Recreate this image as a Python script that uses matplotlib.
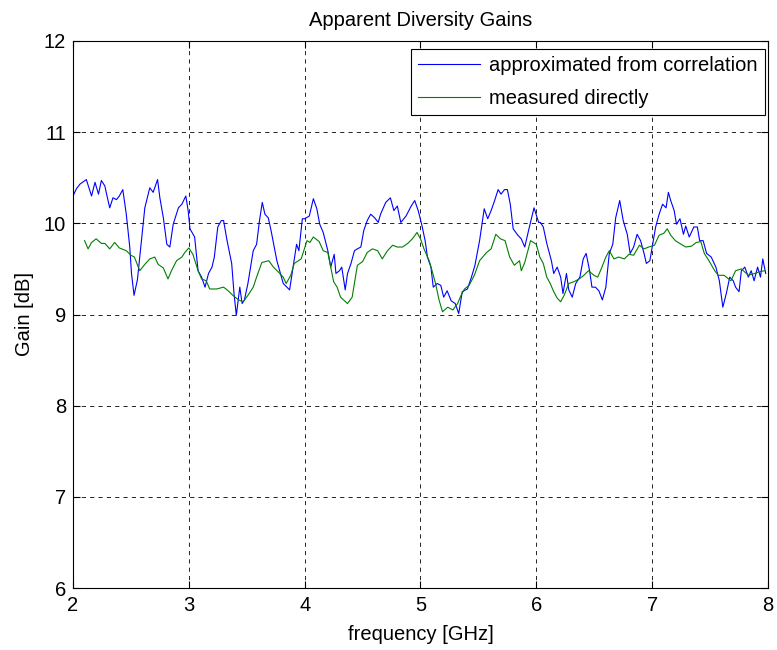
import numpy as np
import matplotlib
matplotlib.use("Agg")
import matplotlib.pyplot as plt

plt.rcParams['font.family'] = ['Liberation Sans', 'DejaVu Sans']

# approximated from correlation (blue)
freq_corr = [2.00, 2.03, 2.06, 2.115, 2.16, 2.19, 2.22, 2.245, 2.275, 2.29, 2.317,
             2.345, 2.375, 2.40, 2.43, 2.46, 2.49, 2.505, 2.527, 2.556, 2.585, 2.62,
             2.663, 2.692, 2.73, 2.75, 2.78, 2.81, 2.836, 2.865, 2.91, 2.94, 2.974,
             2.994, 3.01, 3.05, 3.08, 3.11, 3.14, 3.17, 3.20, 3.22, 3.25, 3.28, 3.30,
             3.33, 3.37, 3.39, 3.41, 3.44, 3.46, 3.48, 3.51, 3.556, 3.585, 3.61,
             3.634, 3.657, 3.686, 3.71, 3.76, 3.815, 3.87, 3.90, 3.93, 3.95, 3.98,
             4.00, 4.04, 4.075, 4.105, 4.13, 4.16, 4.20, 4.225, 4.255, 4.27, 4.30,
             4.32, 4.35, 4.37, 4.40, 4.43, 4.455, 4.485, 4.51, 4.54, 4.57, 4.605,
             4.635, 4.655, 4.70, 4.74, 4.77, 4.80, 4.83, 4.875, 4.92, 4.95, 4.98,
             5.01, 5.04, 5.06, 5.09, 5.11, 5.145, 5.175, 5.20, 5.23, 5.265, 5.30,
             5.33, 5.36, 5.405, 5.44, 5.47, 5.51, 5.55, 5.58, 5.61, 5.64, 5.67,
             5.695, 5.725, 5.75, 5.775, 5.80, 5.84, 5.87, 5.90, 5.94, 5.98, 6.02,
             6.035, 6.06, 6.09, 6.13, 6.15, 6.18, 6.21, 6.23, 6.26, 6.28, 6.31,
             6.34, 6.376, 6.405, 6.43, 6.46, 6.48, 6.51, 6.54, 6.57, 6.60, 6.63,
             6.66, 6.685, 6.72, 6.75, 6.785, 6.81, 6.84, 6.87, 6.90, 6.93, 6.95,
             6.98, 7.00, 7.03, 7.06, 7.09, 7.12, 7.14, 7.16, 7.19, 7.21, 7.24, 7.27,
             7.29, 7.32, 7.36, 7.39, 7.41, 7.44, 7.47, 7.51, 7.55, 7.58, 7.61, 7.64,
             7.67, 7.70, 7.72, 7.75, 7.77, 7.80, 7.83, 7.855, 7.88, 7.91, 7.935,
             7.955, 7.98]
gain_corr = [10.30, 10.38, 10.43, 10.48, 10.30, 10.45, 10.32, 10.47, 10.41, 10.32,
             10.17, 10.28, 10.26, 10.30, 10.37, 10.10, 9.74, 9.45, 9.21, 9.38, 9.74,
             10.17, 10.39, 10.34, 10.48, 10.28, 10.06, 9.77, 9.74, 9.99, 10.17,
             10.21, 10.30, 10.14, 9.94, 9.85, 9.48, 9.41, 9.30, 9.45, 9.52, 9.63,
             9.96, 10.03, 10.03, 9.81, 9.56, 9.23, 8.99, 9.30, 9.12, 9.16, 9.34,
             9.70, 9.77, 10.03, 10.23, 10.10, 10.06, 9.92, 9.59, 9.34, 9.27, 9.52,
             9.77, 9.70, 10.05, 10.05, 10.08, 10.27, 10.16, 9.99, 9.90, 9.70, 9.52,
             9.66, 9.45, 9.48, 9.52, 9.27, 9.45, 9.56, 9.70, 9.72, 9.74, 9.92,
             10.03, 10.10, 10.06, 10.01, 10.10, 10.23, 10.28, 10.14, 10.19, 10.01,
             10.08, 10.19, 10.25, 10.14, 9.99, 9.81, 9.63, 9.52, 9.30, 9.34, 9.32,
             9.19, 9.26, 9.15, 9.12, 9.01, 9.25, 9.28, 9.41, 9.54, 9.81, 10.16,
             10.05, 10.14, 10.25, 10.37, 10.32, 10.37, 10.37, 10.21, 9.94, 9.87,
             9.83, 9.74, 9.96, 10.17, 10.01, 10.01, 9.96, 9.78, 9.59, 9.45, 9.52,
             9.41, 9.23, 9.45, 9.27, 9.19, 9.34, 9.41, 9.61, 9.67, 9.48, 9.30,
             9.30, 9.26, 9.16, 9.30, 9.67, 9.77, 10.06, 10.25, 10.03, 9.88, 9.67,
             9.74, 9.88, 9.81, 9.67, 9.56, 9.59, 9.74, 9.96, 10.10, 10.21, 10.17,
             10.34, 10.25, 10.14, 9.99, 10.05, 9.88, 9.97, 9.85, 9.96, 9.96, 9.81,
             9.81, 9.67, 9.63, 9.52, 9.37, 9.08, 9.23, 9.41, 9.37, 9.30, 9.25,
             9.48, 9.52, 9.41, 9.48, 9.37, 9.52, 9.41, 9.61, 9.45]

# measured directly (green)
freq_meas = [2.10, 2.13, 2.16, 2.20, 2.245, 2.275, 2.317, 2.36, 2.40, 2.46, 2.50,
             2.53, 2.576, 2.62, 2.663, 2.706, 2.735, 2.78, 2.82, 2.85, 2.894, 2.94,
             2.965, 3.00, 3.035, 3.08, 3.11, 3.15, 3.18, 3.24, 3.30, 3.34, 3.38,
             3.43, 3.47, 3.51, 3.556, 3.585, 3.63, 3.69, 3.73, 3.77, 3.815, 3.84,
             3.88, 3.91, 3.97, 4.02, 4.045, 4.075, 4.125, 4.16, 4.20, 4.225, 4.25,
             4.28, 4.31, 4.37, 4.41, 4.455, 4.50, 4.54, 4.585, 4.63, 4.67, 4.715,
             4.76, 4.80, 4.845, 4.89, 4.93, 4.97, 5.00, 5.03, 5.075, 5.10, 5.13,
             5.16, 5.19, 5.235, 5.28, 5.32, 5.35, 5.38, 5.42, 5.465, 5.51, 5.57,
             5.61, 5.65, 5.69, 5.73, 5.77, 5.81, 5.855, 5.87, 5.90, 5.95, 6.00,
             6.03, 6.06, 6.09, 6.12, 6.15, 6.18, 6.21, 6.24, 6.28, 6.325, 6.37,
             6.41, 6.45, 6.497, 6.53, 6.56, 6.60, 6.63, 6.67, 6.71, 6.76, 6.80,
             6.84, 6.89, 6.93, 6.97, 7.02, 7.06, 7.10, 7.13, 7.16, 7.20, 7.25,
             7.29, 7.34, 7.38, 7.42, 7.45, 7.49, 7.54, 7.57, 7.62, 7.68, 7.72,
             7.77, 7.83, 7.885, 7.93, 7.97]
gain_meas = [9.81, 9.72, 9.79, 9.83, 9.78, 9.78, 9.72, 9.79, 9.73, 9.70, 9.65,
             9.63, 9.48, 9.55, 9.61, 9.63, 9.55, 9.51, 9.39, 9.48, 9.59, 9.63,
             9.68, 9.73, 9.66, 9.48, 9.39, 9.37, 9.28, 9.28, 9.30, 9.26, 9.21,
             9.16, 9.14, 9.21, 9.30, 9.41, 9.57, 9.59, 9.52, 9.47, 9.41, 9.34,
             9.43, 9.56, 9.61, 9.81, 9.79, 9.85, 9.80, 9.70, 9.68, 9.52, 9.36,
             9.30, 9.19, 9.12, 9.19, 9.54, 9.58, 9.68, 9.72, 9.70, 9.61, 9.70,
             9.76, 9.74, 9.74, 9.78, 9.83, 9.90, 9.83, 9.72, 9.59, 9.48, 9.34,
             9.16, 9.03, 9.08, 9.05, 9.12, 9.21, 9.28, 9.32, 9.43, 9.59, 9.68,
             9.72, 9.88, 9.83, 9.81, 9.63, 9.54, 9.59, 9.48, 9.57, 9.81, 9.77,
             9.63, 9.56, 9.41, 9.34, 9.25, 9.18, 9.14, 9.21, 9.34, 9.36, 9.39,
             9.43, 9.48, 9.43, 9.41, 9.50, 9.63, 9.70, 9.61, 9.63, 9.61, 9.66,
             9.65, 9.76, 9.72, 9.74, 9.76, 9.87, 9.89, 9.94, 9.87, 9.81, 9.77,
             9.74, 9.75, 9.79, 9.80, 9.67, 9.59, 9.48, 9.43, 9.43, 9.37, 9.48,
             9.50, 9.43, 9.45, 9.47, 9.48]

xticks = [2, 3, 4, 5, 6, 7, 8]
yticks = [6, 7, 8, 9, 10, 11, 12]

FS = 14.5

fig = plt.figure(figsize=(7.77, 6.5), dpi=100)
ax = fig.add_axes([73 / 777, 62 / 650, 695 / 777, 547 / 650])

ax.plot(freq_corr, gain_corr, color=(0, 0, 1), lw=0.8,
        label='approximated from correlation')
ax.plot(freq_meas, gain_meas, color=(0, 0.5, 0), lw=0.8,
        label='measured directly')

ax.set_xlim(2, 8)
ax.set_ylim(6, 12)
ax.set_xticks(xticks)
ax.set_yticks(yticks)
ax.tick_params(direction='in', top=True, right=True, length=5, labelsize=FS)
ax.tick_params(axis='x', pad=6)
ax.tick_params(axis='y', pad=5)
ax.grid(True, color='black', linestyle=(0, (5, 5)), lw=0.6)
for s in ax.spines.values():
    s.set_linewidth(0.8)

ax.set_title('Apparent Diversity Gains', fontsize=FS, pad=11)
ax.set_xlabel('frequency [GHz]', fontsize=FS, labelpad=7)
ax.set_ylabel('Gain [dB]', fontsize=FS, labelpad=7)

leg = ax.legend(loc='upper right', bbox_to_anchor=(0.9957, 0.985),
                borderaxespad=0, fontsize=FS, fancybox=False, framealpha=1,
                edgecolor='black', handlelength=3.1, handletextpad=0.45,
                labelspacing=0.7, borderpad=0.35)
leg.get_frame().set_linewidth(0.8)

fig.savefig('out.png', dpi=100)
